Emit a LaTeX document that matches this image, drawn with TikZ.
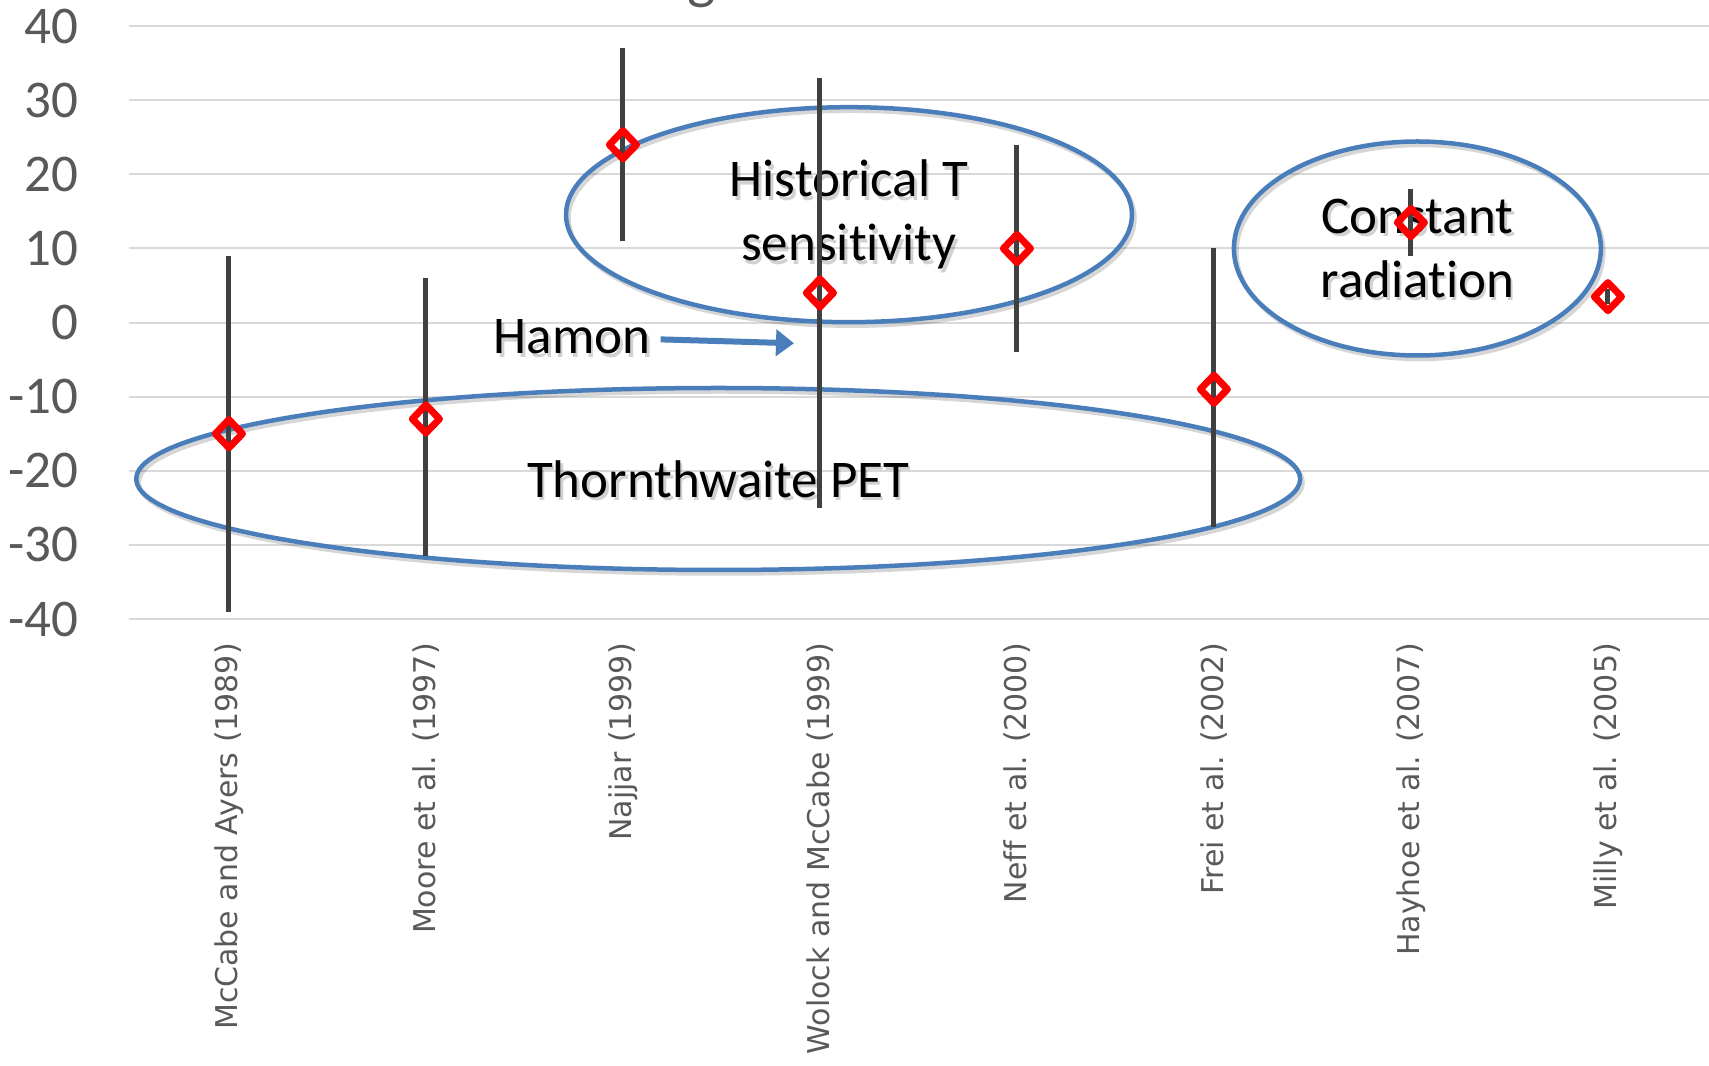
\documentclass[tikz,border=0pt]{standalone}
\usepackage{fontspec}
\setmainfont{Carlito}[Ligatures=NoCommon]
\newfontfamily\labelfont{DejaVu Sans}[Ligatures=NoCommon]
\usetikzlibrary{positioning, arrows.meta, shapes.geometric}
\definecolor{gGrid}{HTML}{D9D9D9}
\definecolor{gText}{HTML}{595959}
\definecolor{gBar}{HTML}{404040}
\definecolor{gRed}{HTML}{FF0000}
\definecolor{gBlue}{HTML}{4A7EBB}

\begin{document}
\begin{tikzpicture}[x=1pt, y=1pt,
  ylab/.style={font=\fontsize{53}{60}\selectfont, text=gText, anchor=east, inner sep=0pt},
  study/.style={font=\labelfont\fontsize{30}{36}\selectfont, text=gText, rotate=90, anchor=east, inner sep=0pt},
  errbar/.style={gBar, line width=5pt},
  datum/.style={diamond, draw=gRed, line width=7pt, line join=round, minimum width=30pt, minimum height=31pt, inner sep=0pt},
  encircle/.style={ellipse, draw=gBlue, line width=4.5pt, inner sep=0pt, align=center, font=\fontsize{53}{64}\selectfont},
  note/.style={font=\fontsize{53}{64}\selectfont, inner sep=0pt},
  ghost/.style={draw=black, text=black, draw opacity=0.16, text opacity=0.18},
]
  \useasboundingbox (0,0) rectangle (1709,1066);

  \foreach \v in {-40,-30,...,40}{
    \draw[gGrid, line width=2pt] (128.6,{743.4+7.41*\v}) -- (1709,{743.4+7.41*\v});
    \node[ylab] (y\v) at (78.5,{743.4+7.41*\v}) {\v};
  }
  \node[font=\fontsize{60}{70}\selectfont, text=gText, anchor=base] (title) at (702,1068) {g};

  \node[encircle, ghost, minimum width=566pt, minimum height=215pt] (histshadow) at (851.5,847.8) {Historical T\\sensitivity};
  \node[encircle, minimum width=566pt, minimum height=215pt] (hist) at (849,851.3) {Historical T\\sensitivity};
  \node[encircle, ghost, minimum width=367pt, minimum height=214pt] (radshadow) at (1419.9,814) {Constant\\radiation};
  \node[encircle, minimum width=367pt, minimum height=214pt] (rad) at (1417.4,817.5) {Constant\\radiation};
  \node[encircle, ghost, minimum width=1164pt, minimum height=182pt] (petshadow) at (720.7,583.5) {Thornthwaite PET};
  \node[encircle, minimum width=1164pt, minimum height=182pt] (pet) at (718.2,587) {Thornthwaite PET};

  \node[note, ghost, draw=none, anchor=west] (hamonshadow) at (496.2,725.7) {Hamon};
  \node[note, anchor=west] (hamon) at (493.7,729.2) {Hamon};
  \coordinate (hamontip) at (794,722.7);
  \draw[gBlue, line width=6pt, -{Triangle[length=18pt, width=26pt]}, shorten <=10pt] (hamon) -- (hamontip);

  \begin{scope}[shift={(31.9pt,743.4pt)}, x=197pt, y=7.41pt]
    \foreach \i/\lo/\hi/\v in {1/-39/9/-15, 2/-31.5/6/-13, 3/11/37/24, 4/-25/33/4,
                               5/-4/24/10, 6/-27.6/10/-9, 7/9/18/13.5, 8/2.5/4.5/3.5}{
      \draw[errbar] (\i,\lo) -- (\i,\hi);
      \node[datum] (p\i) at (\i,\v) {};
    }
  \end{scope}

  \foreach \i/\name in {1/McCabe and Ayers (1989), 2/Moore et al. (1997), 3/Najjar (1999),
                        4/Wolock and McCabe (1999), 5/Neff et al. (2000), 6/Frei et al. (2002),
                        7/Hayhoe et al. (2007), 8/Milly et al. (2005)}
    \node[study] (s\i) at ({31.9+197*\i},423) {\name};
\end{tikzpicture}
\end{document}
